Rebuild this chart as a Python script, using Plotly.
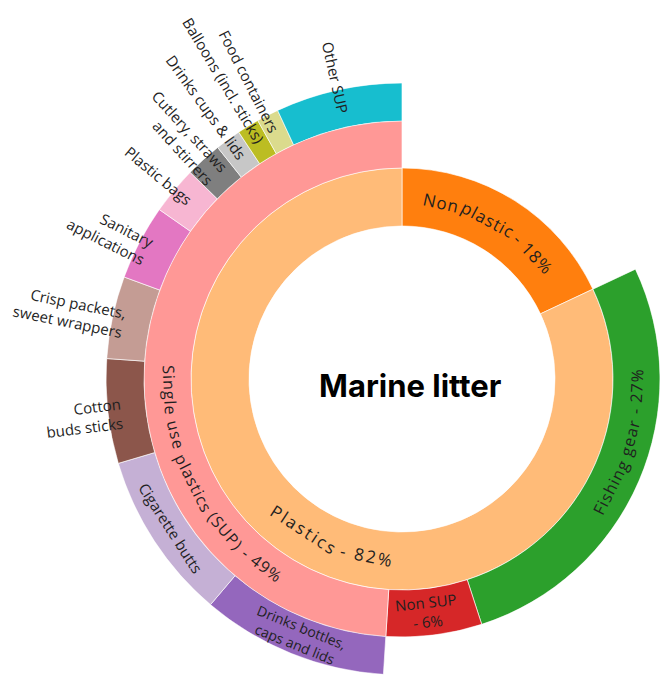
import math
import plotly.graph_objects as go

# ---------------- data ----------------
inner_labels = ["Non plastic", "Plastics"]
inner_values = [18, 82]
inner_colors = ["#ff7f0e", "#ffbb78"]

middle_labels = ["Fishing gear", "Non SUP", "Single use plastics (SUP)"]
middle_values = [27, 6, 49]
middle_colors = ["#2ca02c", "#d62728", "#ff9896"]

sup_items = ["Drinks bottles, caps and lids", "Cigarette butts", "Cotton buds sticks",
             "Crisp packets, sweet wrappers", "Sanitary applications", "Plastic bags",
             "Cutlery, straws and stirrers", "Drinks cups & lids", "Balloons (incl. sticks)",
             "Food containers", "Other SUP"]
sup_values = [10.2, 9.2, 5.7, 4.5, 4.1, 2.6, 2.0, 1.4, 1.2, 1.2, 6.9]
sup_colors = ["#9467bd", "#c5b0d5", "#8c564b", "#c49c94", "#e377c2", "#f7b6d2",
              "#7f7f7f", "#c7c7c7", "#bcbd22", "#dbdb8d", "#17becf"]

center_title = "Marine litter"

# ---------------- geometry (pixels) ----------------
W, H = 668, 675
CX, CY = 402, 379
R0, R1, R2, R3 = 153, 211, 258, 296
TXT = "#1f1f1f"
FONT = "Open Sans"


def spans(values, start_pct):
    out, acc = [], start_pct
    for v in values:
        out.append((acc * 3.6, (acc + v) * 3.6))
        acc += v
    return out


inner_sp = spans(inner_values, 0)
middle_sp = spans(middle_values, inner_values[0])
sup_sp = spans(sup_values, inner_values[0] + middle_values[0] + middle_values[1])


def bar(sp, base, length, colors, subplot):
    return go.Barpolar(
        theta=[(a + b) / 2 for a, b in sp], width=[b - a for a, b in sp],
        r=[length] * len(sp), base=[base] * len(sp),
        marker=dict(color=colors, line=dict(color="rgba(255,255,255,0.8)", width=0.8)),
        subplot=subplot, hoverinfo="skip", showlegend=False)


fig = go.Figure()
fig.add_trace(bar(inner_sp, 0, R1 - R0, inner_colors, "polar"))
fig.add_trace(bar(middle_sp, R1 - R0, R2 - R1, middle_colors, "polar"))
fig.add_trace(bar(sup_sp, 0, R3 - R2, sup_colors, "polar2"))


def pt(theta, r):
    t = math.radians(theta)
    return (CX + r * math.sin(t)) / W, 1 - (CY - r * math.cos(t)) / H


CW = {' ': .3, 'a': .556, 'b': .613, 'c': .48, 'd': .613, 'e': .561, 'f': .336, 'g': .546,
      'h': .614, 'i': .252, 'j': .252, 'k': .529, 'l': .252, 'm': .932, 'n': .614, 'o': .604,
      'p': .613, 'q': .613, 'r': .409, 's': .477, 't': .353, 'u': .614, 'v': .504, 'w': .768,
      'x': .519, 'y': .504, 'z': .469, '%': .823, '-': .322, '(': .296, ')': .296, '.': .266,
      ',': .245, '&': .694, 'P': .586, 'S': .549, 'U': .729, 'N': .733, 'F': .5}


def tw(s, size, ls=0):
    return sum(CW.get(c, .572 if c.isdigit() else .65) for c in s) * size + ls * len(s)


annotations = []


def ann(x, y, text, size, angle=0, align="center", family=FONT, bold=False, ls=0):
    if ls:
        text = f'<span style="letter-spacing:{ls}px">{text}</span>'
    annotations.append(dict(
        x=x, y=y, xref="paper", yref="paper", text=text, showarrow=False,
        xanchor="center", yanchor="middle", textangle=angle, align=align,
        font=dict(family=family, size=size, color=TXT if not bold else "black",
                  weight=700 if bold else 400)))


def arc_text(text, t0, t1, r, size, ls=1.0, gap=0.5):
    words = []
    for w in text.split(" "):
        if words and words[-1] == "-":
            words[-1] = "- " + w
        else:
            words.append(w)
    ws = [tw(w, size, ls) for w in words]
    sp = gap * size + ls
    total = sum(ws) + sp * (len(words) - 1)
    acc = 0
    bottom = 90 < (t0 + t1) / 2 < 270
    for w, wd in zip(words, ws):
        p = acc + wd / 2
        acc += wd + sp
        th = t0 + (t1 - t0) * p / total
        rot = th - 180 if bottom else (th if th <= 180 else th - 360)
        x, y = pt(th, r)
        ann(x, y, w, size, rot, ls=ls)


def inward(th):
    t = math.radians(th)
    return math.degrees(math.atan2(math.cos(t), -math.sin(t)))


# curved ring labels
arc_text(f"{inner_labels[0]} - {inner_values[0]}%", 7.2, 53.2, 181, 17)
arc_text(f"{inner_labels[1]} - {inner_values[1]}%", 224.3, 183.2, 180, 17, ls=2.2, gap=0.35)
arc_text(f"{middle_labels[0]} - {middle_values[0]}%", 123.9, 87.8, 235, 16)
arc_text(f"{middle_labels[2]} - {middle_values[2]}%", 272.9, 211.6, 233, 16)

# Non SUP
th = sum(middle_sp[1]) / 2 + 1
x, y = pt(th, 234)
ann(x, y, f"{middle_labels[1]}<br>- {middle_values[1]}%", 15, th - 180)

# outer labels: (display text, theta, radius, mode, size)
outer_place = [
    ("Drinks bottles,<br>caps and lids", 202.0, 277, "tan", 14),
    ("Cigarette butts", 237.2, 275, "tan", 15),
    ("Cotton<br>buds sticks", 263.0, 321, "rad", 15),
    ("Crisp packets,<br>sweet wrappers", 281.4, 339, "rad", 15),
    ("Sanitary<br>applications", 296.6, 326, "rad", 15),
    ("Plastic bags", 309.9, 318, "rad", 15),
    ("Cutlery, straws<br>and stirrers", 317.7, 326, "rad", 15),
    ("Drinks cups &amp; lids", 324.2, 335, "rad", 15),
    ("Balloons (incl. sticks)", 329.1, 348, "rad", 15),
    ("Food containers", 332.9, 334, "rad", 15),
    ("Other SUP", 347.5, 309, "rad", 15),
]
for text, th, r, mode, size in outer_place:
    x, y = pt(th, r)
    if mode == "tan":
        ann(x, y, text, size, th - 180)
    else:
        ann(x, y, text, size, inward(th), align="right")

# centre title
ann(410 / W, 1 - 385 / H, center_title, 31, 0, family="Inter", bold=True)

fig.update_layout(
    width=W, height=H, margin=dict(l=0, r=0, t=0, b=0, pad=0),
    paper_bgcolor="white", plot_bgcolor="white", showlegend=False,
    polar=dict(
        domain=dict(x=[(CX - R2) / W, (CX + R2) / W], y=[1 - (CY + R2) / H, 1 - (CY - R2) / H]),
        hole=R0 / R2, bgcolor="rgba(0,0,0,0)",
        radialaxis=dict(range=[0, R2 - R0], visible=False),
        angularaxis=dict(rotation=90, direction="clockwise", visible=False)),
    polar2=dict(
        domain=dict(x=[(CX - R3) / W, CX / W], y=[max(0, 1 - (CY + R3) / H), 1 - (CY - R3) / H]),
        sector=[90, 270], hole=R2 / R3, bgcolor="rgba(0,0,0,0)",
        radialaxis=dict(range=[0, R3 - R2], visible=False),
        angularaxis=dict(rotation=90, direction="clockwise", visible=False)),
    annotations=annotations,
)

fig.write_html("out.html")
